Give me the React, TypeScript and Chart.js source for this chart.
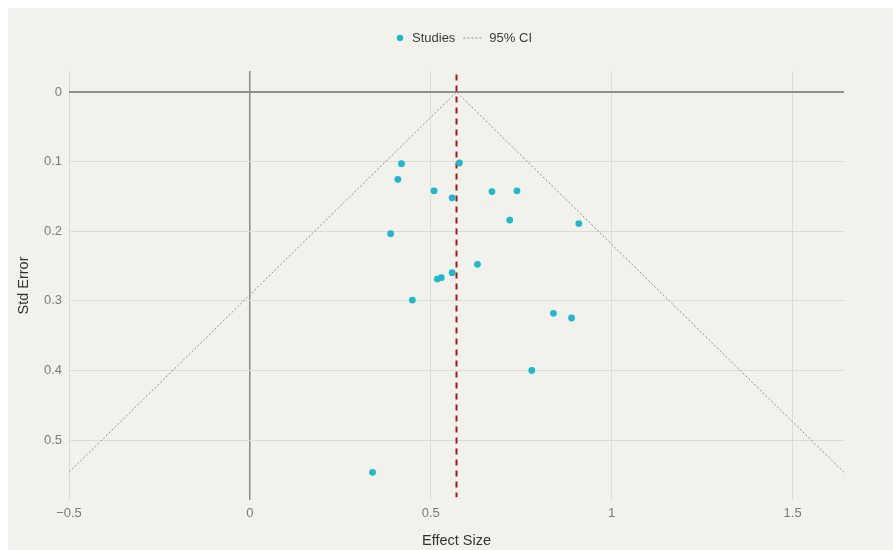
import React, { useEffect, useRef } from "react";
import { Chart, registerables } from "chart.js";

Chart.register(...registerables);

// Study effect sizes and their standard errors
const effectSizes = [0.419, 0.579, 0.409, 0.509, 0.559, 0.669, 0.738, 0.718, 0.909, 0.389, 0.629, 0.559, 0.529, 0.518, 0.449, 0.839, 0.889, 0.779, 0.339];
const standardErrors = [0.103, 0.102, 0.1255, 0.142, 0.152, 0.143, 0.142, 0.184, 0.189, 0.2035, 0.2476, 0.2596, 0.2667, 0.2687, 0.2989, 0.318, 0.3247, 0.4, 0.5465];

// Pooled estimate and funnel (95% CI) outline
const pooledEffect = 0.571;
const ciX = [-0.5, 0.571, 1.642];
const ciY = [0.5464, 0, 0.5464];

// Axis ranges / ticks
const xRange = [-0.5, 1.642];
const yRange = [-0.0302, 0.5862];
const xStep = 0.5;
const yStep = 0.1;

const seriesLabels = ["Studies", "95% CI", "Pooled"];

const FONT = "'Liberation Sans', Arial, sans-serif";
const BG = "#f2f2ed";
const CYAN = "#1fb8cd";
const CI_COLOR = "#8e8e8e";
const RED = "#a8161c";

function fmt(v: number): string {
  const r = Math.round(v * 100) / 100;
  if (r < 0) return "\u2212" + String(Math.abs(r));
  return String(r);
}

const bgPlugin = {
  id: "bgFill",
  beforeDraw(chart: any) {
    const { ctx, width, height } = chart;
    ctx.save();
    ctx.fillStyle = BG;
    ctx.fillRect(0, 0, width, height);
    ctx.restore();
  },
};

const legendPlugin = {
  id: "customLegend",
  afterDraw(chart: any) {
    const ctx = chart.ctx;
    const ds = chart.data.datasets;
    ctx.save();
    ctx.font = `13px ${FONT}`;
    ctx.textBaseline = "middle";
    const y = 30;
    let x = 392;
    ctx.beginPath();
    ctx.arc(x, y, 3.2, 0, Math.PI * 2);
    ctx.fillStyle = CYAN;
    ctx.fill();
    x = 404;
    ctx.fillStyle = "#3a3a3a";
    ctx.fillText(ds[0].label, x, y);
    x += ctx.measureText(ds[0].label).width + 8;
    ctx.beginPath();
    ctx.setLineDash([2, 2]);
    ctx.strokeStyle = CI_COLOR;
    ctx.lineWidth = 1;
    ctx.moveTo(x, y);
    ctx.lineTo(x + 19, y);
    ctx.stroke();
    ctx.setLineDash([]);
    x += 19 + 7;
    ctx.fillText(ds[1].label, x, y);
    ctx.restore();
  },
};

export default function App() {
  const canvasRef = useRef<HTMLCanvasElement | null>(null);

  useEffect(() => {
    document.documentElement.style.overflow = "hidden";
    const canvas = canvasRef.current;
    if (!canvas) return;

    const studies = effectSizes.map((x, i) => ({ x, y: standardErrors[i] }));
    const ci = ciX.map((x, i) => ({ x, y: ciY[i] }));
    const pooled = [
      { x: pooledEffect, y: yRange[0] + 0.005 },
      { x: pooledEffect, y: yRange[1] - 0.004 },
    ];

    const chart = new Chart(canvas, {
      type: "scatter",
      data: {
        datasets: [
          {
            label: seriesLabels[0],
            data: studies,
            backgroundColor: CYAN,
            borderWidth: 0,
            pointRadius: 3.4,
            order: 1,
          },
          {
            label: seriesLabels[1],
            data: ci,
            showLine: true,
            borderColor: CI_COLOR,
            borderWidth: 1,
            borderDash: [2, 2],
            pointRadius: 0,
            fill: false,
            order: 3,
          } as any,
          {
            label: seriesLabels[2],
            data: pooled,
            showLine: true,
            borderColor: RED,
            borderWidth: 2,
            borderDash: [6, 5],
            pointRadius: 0,
            fill: false,
            order: 2,
          } as any,
        ],
      },
      options: {
        animation: false,
        responsive: false,
        layout: { padding: { top: 63, right: 49, left: 0, bottom: 0 } },
        plugins: {
          legend: { display: false },
          tooltip: { enabled: false },
          title: { display: false },
        },
        scales: {
          x: {
            type: "linear",
            min: xRange[0],
            max: xRange[1],
            afterFit: (s: any) => {
              s.height = 50;
            },
            border: { display: false },
            grid: {
              drawTicks: false,
              color: (c: any) => (c.tick && Math.abs(c.tick.value) < 1e-9 ? "#8a8a86" : "#dcdcd6"),
              lineWidth: (c: any) => (c.tick && Math.abs(c.tick.value) < 1e-9 ? 1.5 : 1),
            },
            ticks: {
              stepSize: xStep,
              includeBounds: false,
              padding: 6,
              color: "#7a7a7a",
              font: { family: FONT, size: 13 },
              callback: (v: any) => fmt(Number(v)),
            },
            title: {
              display: true,
              text: "Effect Size",
              color: "#333",
              font: { family: FONT, size: 14.5 },
              padding: { top: 0, bottom: 0 },
            },
          },
          y: {
            type: "linear",
            reverse: true,
            min: yRange[0],
            max: yRange[1],
            afterFit: (s: any) => {
              s.width = 61;
            },
            border: { display: false },
            grid: {
              drawTicks: false,
              color: (c: any) => (c.tick && Math.abs(c.tick.value) < 1e-9 ? "#8f8f8b" : "#dcdcd6"),
              lineWidth: (c: any) => (c.tick && Math.abs(c.tick.value) < 1e-9 ? 2 : 1),
            },
            ticks: {
              stepSize: yStep,
              includeBounds: false,
              padding: 7,
              color: "#7a7a7a",
              font: { family: FONT, size: 13 },
              callback: (v: any) => fmt(Number(v)),
            },
            title: {
              display: true,
              text: "Std Error",
              color: "#333",
              font: { family: FONT, size: 14.5 },
              padding: { top: 7, bottom: 0 },
            },
          },
        },
      } as any,
      plugins: [bgPlugin, legendPlugin],
    });

    return () => chart.destroy();
  }, []);

  return (
    <div style={{ position: "fixed", left: 8, top: 8, width: 885, height: 542 }}>
      <canvas ref={canvasRef} width={885} height={542} style={{ display: "block", width: 885, height: 542 }} />
    </div>
  );
}
